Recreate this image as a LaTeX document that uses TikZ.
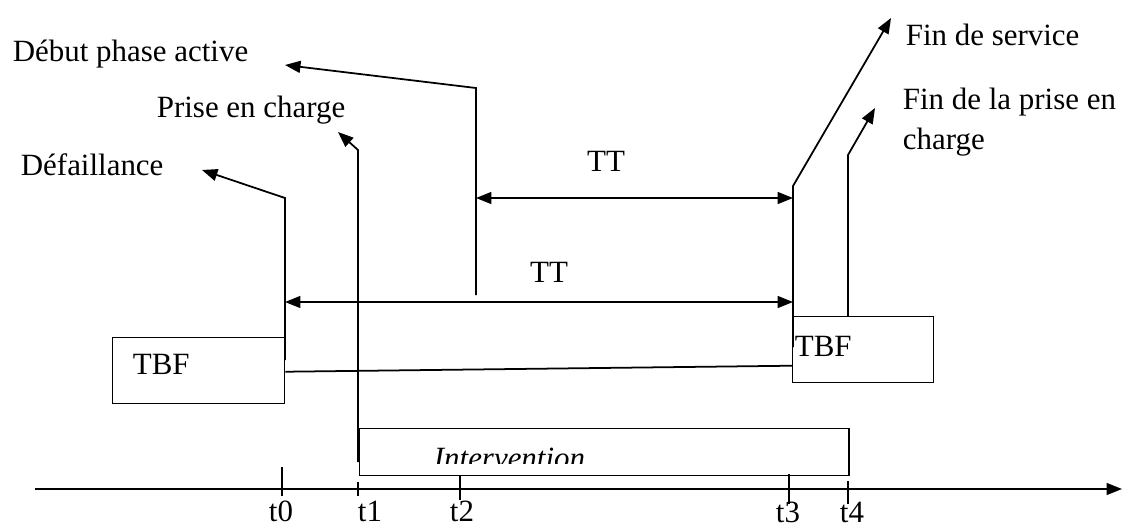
\documentclass[tikz,border=0pt]{standalone}
\usepackage{fontspec}
\setmainfont{Liberation Serif}
\usetikzlibrary{arrows.meta}

\begin{document}
\begin{tikzpicture}[x=0.025cm, y=-0.025cm, line width=1.25pt, every node/.style={font=\fontsize{22}{28.5}\selectfont}]
    \tikzstyle{box} = [rectangle, draw, line width=1pt, inner sep=0pt, anchor=north west]
    \tikzstyle{lbl} = [inner sep=0pt, anchor=base west]
    \tikzstyle{arr} = [-{Triangle[length=11pt,width=8.5pt]}]
    \tikzstyle{dbl} = [{Triangle[length=11pt,width=8.5pt]}-{Triangle[length=11pt,width=8.5pt]}]
    \useasboundingbox (0,0) rectangle (1124,529);

    % time axis and ticks
    \coordinate (o) at (35,489);
    \coordinate (tend) at (1122,489);
    \draw [arr] (o) -- (tend);
    \draw (282,467) -- (282,496);
    \draw (358,482) -- (358,496);
    \draw (460,476) -- (460,500);
    \draw (789,474) -- (789,504);
    \draw (848,481) -- (848,504);
    \node (lt0) [lbl, anchor=base] at (281,521) {t0};
    \node (lt1) [lbl, anchor=base] at (370,521) {t1};
    \node (lt2) [lbl, anchor=base] at (462,521) {t2};
    \node (lt3) [lbl, anchor=base] at (788,522) {t3};
    \node (lt4) [lbl, anchor=base] at (852,522) {t4};

    % events
    \node (fail) [lbl] at (20,175) {Défaillance};
    \node (prise) [lbl] at (156,117) {Prise en charge};
    \node (debut) [lbl] at (12,61) {Début phase active};
    \node (finsrv) [lbl] at (905,45) {Fin de service};
    \node (finpec) [lbl, anchor=north west, align=left] at (902,87) {Fin de la prise en\\charge};

    \coordinate (e0) at (285,360); \coordinate (e0top) at (285,198); \coordinate (a0) at (202,170);
    \coordinate (e1) at (358,462); \coordinate (e1top) at (358,150); \coordinate (a1) at (338,132);
    \coordinate (e2) at (476,295); \coordinate (e2top) at (476,88);  \coordinate (a2) at (285,65);
    \coordinate (e3) at (793,347); \coordinate (e3top) at (793,186); \coordinate (a3) at (891,18);
    \coordinate (e4) at (848,316); \coordinate (e4top) at (848,155); \coordinate (a4) at (875,108);
    \draw [arr] (e0) -- (e0top) -- (a0);
    \draw [arr] (e1) -- (e1top) -- (a1);
    \draw [arr] (e2) -- (e2top) -- (a2);
    \draw [arr] (e3) -- (e3top) -- (a3);
    \draw [arr] (e4) -- (e4top) -- (a4);

    % durations
    \coordinate (tt1a) at (476,198); \coordinate (tt1b) at (793,198);
    \coordinate (tt2a) at (285,302); \coordinate (tt2b) at (793,302);
    \draw [dbl] (tt1a) -- (tt1b);
    \draw [dbl] (tt2a) -- (tt2b);
    \node (tt1) [lbl, anchor=base] at (606,171) {TT};
    \node (tt2) [lbl, anchor=base] at (549,282) {TT};

    % TBF boxes
    \node (tbfa) [box, minimum width=4.3cm, minimum height=1.65cm] at (112,337) {};
    \node (tbfb) [box, minimum width=3.525cm, minimum height=1.65cm] at (792,316) {};
    \node (tbfatxt) [lbl] at (132,374) {TBF};
    \node (tbfbtxt) [lbl] at (794,356) {TBF};
    \draw ([yshift=-0.025cm]tbfa.east) -- ([yshift=-0.4cm]tbfb.west);

    % intervention
    \node (inter) [box, minimum width=12.225cm, minimum height=1.175cm] at (359,428) {};
    \begin{scope}
        \clip (359,428) rectangle (848,463);
        \node (intertxt) [lbl] at (433,468) {\itshape Intervention};
    \end{scope}

\end{tikzpicture}
\end{document}
